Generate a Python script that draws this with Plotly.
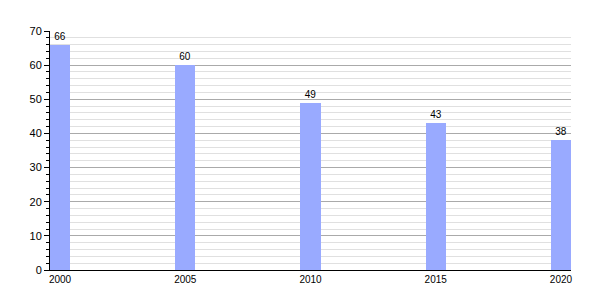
import plotly.graph_objects as go

years = [2000, 2005, 2010, 2015, 2020]
values = [66, 60, 49, 43, 38]
ytick_vals = [0, 10, 20, 30, 40, 50, 60, 70]

fig = go.Figure()
fig.add_trace(go.Bar(
    x=years, y=values, width=0.8,
    marker=dict(color="#99aaff", line=dict(width=0)),
    text=[str(v) for v in values], textposition="outside",
    textfont=dict(size=10, color="black", family="Liberation Sans, Arial, sans-serif"),
    cliponaxis=False,
))
fig.update_layout(
    width=600, height=300,
    margin=dict(l=50, r=29, t=31, b=30),
    plot_bgcolor="white", paper_bgcolor="white",
    showlegend=False, bargap=0,
    font=dict(family="Liberation Sans, Arial, sans-serif", size=11, color="black"),
)
fig.update_xaxes(
    range=[1999.6, 2020.4], tickvals=years, ticktext=[str(y) for y in years],
    showline=True, linecolor="black", linewidth=1, ticks="", showgrid=False,
    zeroline=False, tickfont=dict(size=10), ticklabelstandoff=0,
)
fig.update_yaxes(
    range=[0, 70], tickvals=ytick_vals, showline=True, linecolor="black", linewidth=1,
    ticks="outside", ticklen=5, tickcolor="black",
    showgrid=True, gridcolor="#aaaaaa", gridwidth=1, zeroline=False,
    minor=dict(dtick=2, showgrid=True, gridcolor="#e0e0e0", ticks="outside", ticklen=3, tickcolor="black"),
    tickfont=dict(size=11),
)
fig.write_html("out.html")
